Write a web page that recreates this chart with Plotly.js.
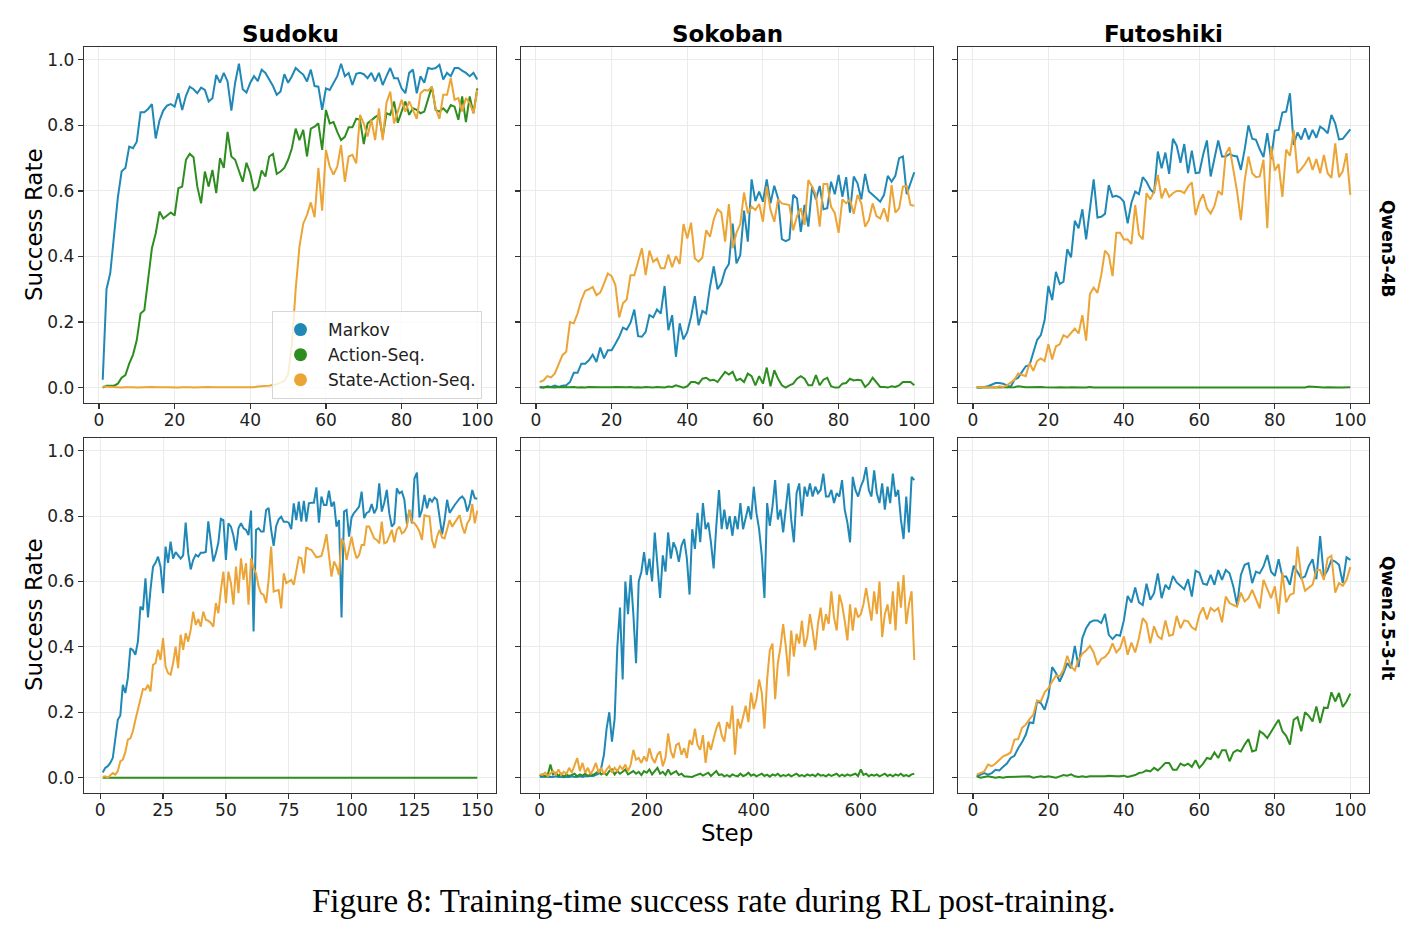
<!DOCTYPE html>
<html>
<head>
<meta charset="utf-8">
<script src="https://cdn.plot.ly/plotly-3.0.1.min.js"></script>
<style>html,body{margin:0;padding:0;background:#fff;}#chart{width:1428px;height:932px;}</style>
</head>
<body>
<div id="chart"></div>
<script>
// ---------- labels ----------
const seriesNames = ["Markov", "Action-Seq.", "State-Action-Seq."];
const seriesColors = ["#1f88b6", "#2e8d1f", "#eba435"];
const taskTitles = ["Sudoku", "Sokoban", "Futoshiki"];
const modelLabels = ["Qwen3-4B", "Qwen2.5-3-It"];
const yTickVals = [0.0, 0.2, 0.4, 0.6, 0.8, 1.0];
const xTicksRow1 = [0, 20, 40, 60, 80, 100];
const xTicksSudoku2 = [0, 25, 50, 75, 100, 125, 150];
const xTicksSokoban2 = [0, 200, 400, 600];
const xTicksFutoshiki2 = [0, 20, 40, 60, 80, 100];

// ---------- Qwen3-4B / Sudoku (steps 1..100) ----------
const sudokuQ3Markov = [0.024,0.30,0.35,0.47,0.58,0.66,0.67,0.735,0.73,0.75,
0.84,0.84,0.85,0.865,0.76,0.815,0.845,0.86,0.865,0.857,
0.898,0.847,0.89,0.918,0.91,0.898,0.915,0.908,0.873,0.883,
0.954,0.93,0.96,0.934,0.845,0.93,0.988,0.91,0.90,0.93,
0.95,0.935,0.97,0.96,0.94,0.92,0.893,0.903,0.956,0.93,
0.95,0.975,0.964,0.955,0.934,0.97,0.92,0.918,0.847,0.913,
0.908,0.93,0.95,0.988,0.95,0.96,0.923,0.957,0.96,0.956,
0.944,0.96,0.934,0.96,0.923,0.95,0.975,0.944,0.944,0.913,
0.898,0.96,0.97,0.898,0.95,0.93,0.975,0.972,0.975,0.985,
0.94,0.96,0.95,0.975,0.975,0.967,0.96,0.95,0.96,0.94];
const sudokuQ3Action = [0.0,0.006,0.006,0.006,0.012,0.03,0.038,0.073,0.10,0.145,
0.226,0.236,0.33,0.425,0.47,0.537,0.516,0.525,0.534,0.525,
0.608,0.613,0.695,0.713,0.703,0.613,0.562,0.659,0.613,0.664,
0.593,0.70,0.67,0.78,0.705,0.695,0.664,0.628,0.686,0.654,
0.60,0.613,0.662,0.644,0.705,0.713,0.652,0.659,0.67,0.695,
0.73,0.79,0.755,0.786,0.705,0.79,0.796,0.806,0.725,0.847,
0.806,0.81,0.78,0.755,0.765,0.794,0.794,0.82,0.817,0.743,
0.806,0.817,0.825,0.832,0.765,0.837,0.832,0.873,0.808,0.842,
0.873,0.832,0.852,0.847,0.837,0.842,0.878,0.918,0.847,0.842,
0.852,0.84,0.862,0.857,0.817,0.888,0.81,0.888,0.837,0.913];
const sudokuQ3State = [0.003,0.002,0.001,0.002,0.001,0.0,0.001,0.002,0.001,0.0,
0.001,0.0,0.001,0.002,0.001,0.0,0.001,0.001,0.0,0.001,
0.0,0.001,0.002,0.001,0.0,0.001,0.0,0.001,0.002,0.001,
0.001,0.0,0.001,0.0,0.001,0.002,0.001,0.0,0.001,0.002,
0.001,0.003,0.004,0.003,0.006,0.008,0.01,0.015,0.02,0.04,
0.13,0.3,0.43,0.5,0.527,0.565,0.52,0.67,0.54,0.725,
0.674,0.65,0.674,0.74,0.628,0.705,0.71,0.684,0.832,0.806,
0.766,0.817,0.755,0.852,0.755,0.868,0.903,0.806,0.842,0.878,
0.842,0.873,0.847,0.82,0.898,0.908,0.906,0.918,0.852,0.82,
0.893,0.893,0.944,0.878,0.883,0.842,0.883,0.868,0.837,0.908];

// ---------- Qwen3-4B / Sokoban (steps 1..100) ----------
const sokobanQ3Markov = [0.002,0.0,0.004,0.002,0.006,0.002,0.006,0.007,0.017,0.045,
0.045,0.073,0.073,0.083,0.10,0.078,0.122,0.089,0.114,0.114,
0.134,0.155,0.183,0.177,0.198,0.238,0.157,0.155,0.17,0.221,
0.214,0.238,0.226,0.31,0.175,0.221,0.094,0.196,0.147,0.17,
0.216,0.279,0.19,0.234,0.226,0.307,0.37,0.30,0.318,0.358,
0.377,0.50,0.379,0.404,0.54,0.445,0.635,0.569,0.598,0.567,
0.635,0.562,0.616,0.577,0.453,0.447,0.452,0.588,0.577,0.475,
0.557,0.491,0.613,0.574,0.615,0.544,0.547,0.628,0.59,0.649,
0.582,0.642,0.534,0.644,0.623,0.574,0.652,0.598,0.588,0.577,
0.567,0.588,0.646,0.628,0.646,0.70,0.705,0.59,0.623,0.657];
const sokobanQ3Action = [0.001,0.0,0.002,0.001,0.0,0.002,0.001,0.0,0.001,0.002,
0.0,0.001,0.0,0.002,0.001,0.0,0.001,0.001,0.0,0.001,
0.002,0.001,0.0,0.001,0.002,0.0,0.001,0.0,0.002,0.001,
0.0,0.002,0.001,0.0,0.003,0.002,0.007,0.004,0.0,0.004,
0.017,0.017,0.012,0.027,0.03,0.022,0.024,0.017,0.033,0.048,
0.04,0.048,0.022,0.027,0.017,0.043,0.035,0.007,0.035,0.012,
0.061,0.004,0.053,0.027,0.007,0.0,0.007,0.012,0.027,0.035,
0.027,0.007,0.007,0.038,0.007,0.024,0.03,0.004,0.0,0.0,
0.012,0.014,0.027,0.022,0.024,0.022,0.002,0.012,0.03,0.017,
0.002,0.002,0.0,0.004,0.002,0.007,0.017,0.017,0.017,0.007];
const sokobanQ3State = [0.017,0.022,0.035,0.031,0.043,0.073,0.099,0.109,0.20,0.196,
0.226,0.267,0.295,0.30,0.307,0.282,0.29,0.318,0.348,0.34,
0.313,0.214,0.257,0.269,0.343,0.343,0.384,0.425,0.343,0.418,
0.384,0.394,0.364,0.364,0.406,0.367,0.401,0.377,0.499,0.455,
0.503,0.394,0.384,0.397,0.48,0.46,0.513,0.544,0.534,0.445,
0.56,0.425,0.472,0.499,0.595,0.532,0.552,0.542,0.56,0.506,
0.613,0.542,0.506,0.574,0.562,0.56,0.557,0.48,0.523,0.547,
0.496,0.633,0.613,0.588,0.491,0.621,0.621,0.552,0.532,0.472,
0.574,0.562,0.574,0.53,0.588,0.562,0.491,0.511,0.562,0.523,
0.516,0.547,0.506,0.618,0.534,0.547,0.613,0.615,0.557,0.555];

// ---------- Qwen3-4B / Futoshiki (steps 1..100) ----------
const futoshikiQ3Markov = [0.0,0.0,0.002,0.004,0.01,0.014,0.014,0.012,0.007,0.002,
0.024,0.03,0.048,0.065,0.068,0.104,0.145,0.16,0.206,0.31,
0.267,0.353,0.316,0.323,0.422,0.397,0.509,0.486,0.544,0.452,
0.547,0.635,0.519,0.521,0.53,0.618,0.582,0.585,0.58,0.567,
0.501,0.564,0.598,0.59,0.642,0.628,0.605,0.593,0.72,0.669,
0.717,0.652,0.759,0.738,0.686,0.743,0.654,0.723,0.654,0.656,
0.71,0.754,0.644,0.705,0.754,0.705,0.705,0.713,0.707,0.705,
0.664,0.726,0.80,0.759,0.756,0.727,0.703,0.776,0.697,0.784,
0.786,0.839,0.842,0.898,0.74,0.778,0.757,0.791,0.757,0.786,
0.762,0.796,0.788,0.776,0.832,0.806,0.757,0.759,0.774,0.788];
const futoshikiQ3Action = [0.0,0.0,0.001,0.0,0.001,0.0,0.0,0.001,0.0,0.0,
0.001,0.004,0.002,0.001,0.001,0.002,0.001,0.002,0.001,0.0,
0.001,0.0,0.001,0.0,0.0,0.001,0.0,0.001,0.0,0.0,
0.002,0.0,0.0,0.001,0.0,0.0,0.001,0.0,0.0,0.0,
0.0,0.001,0.0,0.0,0.0,0.0,0.001,0.0,0.0,0.0,
0.0,0.0,0.0,0.001,0.0,0.0,0.0,0.0,0.0,0.0,
0.0,0.0,0.0,0.0,0.001,0.0,0.0,0.0,0.0,0.0,
0.0,0.0,0.0,0.0,0.0,0.001,0.0,0.0,0.0,0.0,
0.0,0.0,0.0,0.0,0.0,0.0,0.0,0.0,0.003,0.002,
0.003,0.001,0.0,0.001,0.0,0.0,0.0,0.0,0.001,0.001];
const futoshikiQ3State = [0.002,0.002,0.002,0.002,0.002,0.0,0.004,0.002,0.007,0.017,
0.024,0.043,0.038,0.035,0.075,0.051,0.081,0.089,0.081,0.132,
0.086,0.126,0.132,0.16,0.153,0.165,0.18,0.165,0.221,0.143,
0.285,0.305,0.289,0.343,0.418,0.404,0.34,0.472,0.472,0.452,
0.452,0.438,0.557,0.466,0.452,0.593,0.574,0.598,0.649,0.577,
0.608,0.582,0.593,0.60,0.60,0.593,0.613,0.626,0.526,0.567,
0.59,0.547,0.531,0.554,0.60,0.588,0.713,0.733,0.662,0.598,
0.511,0.631,0.705,0.654,0.642,0.644,0.695,0.486,0.736,0.662,
0.682,0.582,0.726,0.707,0.786,0.654,0.667,0.682,0.703,0.664,
0.697,0.654,0.71,0.654,0.64,0.745,0.642,0.66,0.715,0.588];

// ---------- Qwen2.5-3-It / Sudoku (steps 1..150) ----------
const sudokuQ25Markov = [0.016,0.03,0.035,0.045,0.06,0.116,0.177,0.19,0.284,0.259,
0.305,0.396,0.39,0.376,0.417,0.523,0.513,0.61,0.49,0.575,
0.645,0.657,0.676,0.645,0.564,0.707,0.657,0.722,0.67,0.69,
0.68,0.67,0.68,0.78,0.686,0.637,0.666,0.682,0.676,0.688,
0.688,0.69,0.784,0.717,0.661,0.686,0.719,0.792,0.788,0.666,
0.778,0.768,0.74,0.695,0.763,0.778,0.763,0.758,0.742,0.817,
0.447,0.758,0.763,0.753,0.753,0.819,0.825,0.758,0.709,0.77,
0.79,0.798,0.783,0.783,0.78,0.76,0.839,0.788,0.844,0.783,
0.847,0.783,0.839,0.841,0.841,0.888,0.78,0.86,0.834,0.834,
0.878,0.829,0.844,0.768,0.788,0.49,0.814,0.819,0.737,0.796,
0.81,0.819,0.829,0.875,0.794,0.81,0.814,0.837,0.809,0.824,
0.9,0.814,0.841,0.88,0.809,0.768,0.778,0.885,0.87,0.875,
0.85,0.776,0.819,0.778,0.915,0.933,0.796,0.819,0.865,0.824,
0.854,0.844,0.857,0.85,0.798,0.744,0.788,0.85,0.81,0.824,
0.834,0.844,0.854,0.86,0.85,0.814,0.837,0.88,0.855,0.853];
const sudokuQ25Action = [0,0,0,0,0,0,0,0,0,0,
0,0,0,0,0,0,0,0,0,0,
0,0,0,0,0,0,0,0,0,0,
0,0,0,0,0,0,0,0,0,0,
0,0,0,0,0,0,0,0,0,0,
0,0,0,0,0,0,0,0,0,0,
0,0,0,0,0,0,0,0,0,0,
0,0,0,0,0,0,0,0,0,0,
0,0,0,0,0,0,0,0,0,0,
0,0,0,0,0,0,0,0,0,0,
0,0,0,0,0,0,0,0,0,0,
0,0,0,0,0,0,0,0,0,0,
0,0,0,0,0,0,0,0,0,0,
0,0,0,0,0,0,0,0,0,0,
0,0,0,0,0,0,0,0,0,0];
const sudokuQ25State = [0.002,0.004,0.0,0.006,0.014,0.009,0.02,0.05,0.055,0.078,
0.116,0.12,0.142,0.177,0.208,0.248,0.271,0.269,0.284,0.264,
0.345,0.35,0.391,0.36,0.427,0.34,0.32,0.315,0.35,0.401,
0.335,0.437,0.391,0.442,0.416,0.452,0.508,0.467,0.485,0.462,
0.508,0.483,0.48,0.473,0.462,0.534,0.503,0.574,0.63,0.534,
0.63,0.595,0.529,0.646,0.564,0.671,0.605,0.656,0.529,0.671,
0.641,0.625,0.585,0.564,0.559,0.534,0.605,0.707,0.569,0.572,
0.574,0.518,0.625,0.595,0.6,0.605,0.59,0.635,0.674,0.671,
0.625,0.705,0.699,0.697,0.686,0.674,0.676,0.678,0.707,0.745,
0.681,0.615,0.661,0.646,0.62,0.732,0.717,0.666,0.702,0.737,
0.697,0.671,0.681,0.712,0.712,0.768,0.768,0.747,0.732,0.727,
0.717,0.783,0.717,0.72,0.737,0.758,0.72,0.758,0.768,0.747,
0.753,0.768,0.819,0.783,0.778,0.768,0.753,0.727,0.803,0.8,
0.8,0.727,0.702,0.737,0.758,0.735,0.732,0.763,0.788,0.768,
0.78,0.793,0.803,0.768,0.747,0.778,0.79,0.837,0.778,0.817];

// ---------- Qwen2.5-3-It / Sokoban (every 5th step, 0..700) ----------
const sokobanQ25Markov = [0.003,0.002,0.004,0.002,0.003,0.002,0.004,0.002,0.003,0.001,
0.003,0.002,0.004,0.002,0.003,0.004,0.002,0.005,0.004,0.006,
0.005,0.008,0.012,0.03,0.07,0.15,0.2,0.11,0.18,0.4,
0.52,0.3,0.6,0.5,0.62,0.5,0.35,0.6,0.63,0.69,
0.62,0.67,0.6,0.75,0.65,0.55,0.68,0.63,0.75,0.67,
0.72,0.7,0.66,0.71,0.73,0.67,0.56,0.76,0.7,0.81,
0.72,0.84,0.76,0.78,0.72,0.64,0.77,0.88,0.76,0.82,
0.76,0.8,0.74,0.8,0.76,0.84,0.76,0.8,0.83,0.79,
0.89,0.81,0.76,0.68,0.55,0.84,0.77,0.83,0.91,0.79,
0.82,0.75,0.83,0.9,0.79,0.72,0.87,0.9,0.8,0.89,
0.86,0.9,0.86,0.89,0.87,0.88,0.93,0.86,0.86,0.88,
0.84,0.87,0.86,0.91,0.82,0.78,0.72,0.92,0.88,0.86,
0.89,0.91,0.95,0.88,0.86,0.94,0.87,0.84,0.9,0.82,
0.89,0.84,0.93,0.86,0.88,0.79,0.73,0.86,0.75,0.92,
0.91];
const sokobanQ25Action = [0.005,0.01,0.003,0.008,0.04,0.01,0.015,0.005,0.012,0.003,
0.01,0.005,0.008,0.012,0.004,0.01,0.006,0.012,0.005,0.01,
0.008,0.015,0.02,0.01,0.015,0.008,0.02,0.025,0.01,0.02,
0.012,0.018,0.025,0.01,0.015,0.02,0.012,0.018,0.008,0.02,
0.015,0.025,0.01,0.02,0.03,0.012,0.018,0.008,0.025,0.01,
0.015,0.02,0.008,0.012,0.004,0.003,0.004,0.002,0.006,0.008,
0.012,0.006,0.01,0.015,0.005,0.012,0.02,0.008,0.01,0.004,
0.008,0.003,0.01,0.006,0.004,0.012,0.005,0.008,0.015,0.006,
0.01,0.004,0.008,0.012,0.005,0.009,0.003,0.01,0.006,0.012,
0.004,0.008,0.005,0.01,0.004,0.007,0.012,0.005,0.008,0.004,
0.01,0.006,0.009,0.004,0.012,0.006,0.008,0.004,0.01,0.005,
0.008,0.012,0.004,0.009,0.005,0.01,0.006,0.008,0.012,0.005,
0.025,0.008,0.012,0.004,0.009,0.006,0.01,0.004,0.008,0.012,
0.005,0.009,0.004,0.01,0.006,0.012,0.005,0.008,0.004,0.01,
0.012];
const sokobanQ25State = [0.01,0.008,0.015,0.005,0.012,0.02,0.01,0.025,0.008,0.018,
0.012,0.03,0.015,0.04,0.06,0.02,0.045,0.015,0.03,0.01,
0.025,0.045,0.015,0.03,0.01,0.025,0.035,0.015,0.03,0.02,
0.035,0.025,0.04,0.02,0.04,0.085,0.055,0.06,0.045,0.065,
0.05,0.09,0.06,0.045,0.07,0.08,0.035,0.06,0.135,0.08,
0.06,0.1,0.105,0.07,0.09,0.06,0.115,0.1,0.15,0.1,
0.085,0.13,0.045,0.11,0.085,0.12,0.15,0.17,0.13,0.11,
0.17,0.15,0.22,0.07,0.18,0.15,0.19,0.22,0.17,0.26,
0.21,0.24,0.3,0.26,0.15,0.3,0.39,0.41,0.24,0.35,
0.4,0.47,0.4,0.31,0.45,0.37,0.44,0.41,0.48,0.4,
0.43,0.5,0.45,0.39,0.47,0.52,0.45,0.5,0.47,0.57,
0.49,0.45,0.56,0.53,0.48,0.42,0.53,0.45,0.52,0.49,
0.5,0.53,0.58,0.53,0.48,0.57,0.5,0.6,0.43,0.5,
0.53,0.47,0.57,0.45,0.6,0.52,0.62,0.47,0.53,0.57,
0.36];

// ---------- Qwen2.5-3-It / Futoshiki (steps 1..100) ----------
const futoshikiQ25Markov = [0.004,0.009,0.014,0.009,0.014,0.024,0.022,0.033,0.043,0.06,
0.067,0.09,0.108,0.131,0.169,0.167,0.233,0.228,0.208,0.248,
0.338,0.32,0.294,0.32,0.35,0.335,0.403,0.338,0.427,0.457,
0.475,0.481,0.481,0.473,0.501,0.437,0.424,0.437,0.434,0.481,
0.556,0.536,0.582,0.536,0.528,0.593,0.544,0.564,0.625,0.549,
0.59,0.576,0.617,0.597,0.585,0.576,0.607,0.554,0.633,0.627,
0.593,0.59,0.62,0.59,0.635,0.605,0.635,0.625,0.585,0.528,
0.62,0.651,0.656,0.595,0.63,0.625,0.646,0.681,0.63,0.617,
0.668,0.615,0.615,0.59,0.648,0.63,0.61,0.615,0.648,0.668,
0.607,0.739,0.615,0.635,0.666,0.661,0.651,0.595,0.674,0.666];
const futoshikiQ25Action = [0.004,0.0,0.002,0.004,0.002,0.0,0.002,0.0,0.002,0.002,
0.004,0.002,0.004,0.002,0.004,0.0,0.002,0.004,0.002,0.004,
0.002,0.0,0.004,0.008,0.006,0.01,0.004,0.002,0.004,0.002,
0.004,0.004,0.002,0.004,0.004,0.006,0.004,0.004,0.004,0.006,
0.002,0.004,0.008,0.014,0.016,0.022,0.019,0.03,0.022,0.033,
0.045,0.045,0.024,0.024,0.043,0.037,0.043,0.033,0.053,0.03,
0.043,0.06,0.057,0.077,0.06,0.084,0.084,0.05,0.077,0.084,
0.08,0.101,0.118,0.08,0.084,0.142,0.134,0.121,0.142,0.159,
0.177,0.142,0.128,0.101,0.177,0.185,0.142,0.2,0.189,0.172,
0.218,0.167,0.214,0.213,0.261,0.233,0.259,0.216,0.233,0.257];
const futoshikiQ25State = [0.009,0.014,0.019,0.04,0.035,0.043,0.055,0.065,0.07,0.077,
0.116,0.118,0.152,0.162,0.179,0.192,0.236,0.233,0.261,0.274,
0.294,0.312,0.31,0.33,0.373,0.34,0.328,0.36,0.379,0.389,
0.403,0.383,0.345,0.363,0.369,0.383,0.411,0.383,0.396,0.432,
0.376,0.413,0.383,0.427,0.488,0.473,0.411,0.463,0.432,0.424,
0.481,0.434,0.437,0.495,0.457,0.481,0.478,0.46,0.452,0.498,
0.521,0.484,0.519,0.509,0.519,0.475,0.554,0.534,0.528,0.523,
0.566,0.539,0.549,0.574,0.546,0.518,0.605,0.576,0.549,0.585,
0.501,0.627,0.536,0.559,0.564,0.707,0.615,0.572,0.582,0.59,
0.635,0.635,0.605,0.671,0.679,0.566,0.595,0.587,0.605,0.644];

// ---------- build ----------
function stepsFrom(start, stride, n) { const r = []; for (let i = 0; i < n; i++) r.push(start + i * stride); return r; }

const panels = [
  {ax: "", series: [sudokuQ3Markov, sudokuQ3Action, sudokuQ3State], start: 1, stride: 1},
  {ax: "2", series: [sokobanQ3Markov, sokobanQ3Action, sokobanQ3State], start: 1, stride: 1},
  {ax: "3", series: [futoshikiQ3Markov, futoshikiQ3Action, futoshikiQ3State], start: 1, stride: 1},
  {ax: "4", series: [sudokuQ25Markov, sudokuQ25Action, sudokuQ25State], start: 1, stride: 1},
  {ax: "5", series: [sokobanQ25Markov, sokobanQ25Action, sokobanQ25State], start: 0, stride: 5},
  {ax: "6", series: [futoshikiQ25Markov, futoshikiQ25Action, futoshikiQ25State], start: 1, stride: 1}
];

const traces = [];
panels.forEach(p => {
  p.series.forEach((ys, k) => {
    traces.push({
      type: "scatter", mode: "lines",
      x: stepsFrom(p.start, p.stride, ys.length), y: ys,
      xaxis: "x" + p.ax, yaxis: "y" + p.ax,
      line: {color: seriesColors[k], width: 2},
      showlegend: false, hoverinfo: "skip"
    });
  });
});
// legend entries (circle markers)
seriesNames.forEach((nm, k) => {
  traces.push({type: "scatter", mode: "markers", x: [null], y: [null], xaxis: "x", yaxis: "y",
    name: nm, marker: {color: seriesColors[k], size: 13}, showlegend: true});
});

const W = 1428, H = 932;
const fx = v => v / W, fy = v => 1 - v / H;
const colX = [[84, 496], [521, 933], [958, 1369]];
const rowY = [[47, 403], [438, 793]];
const FONT = "DejaVu Sans, Arial, sans-serif";

function xAxis(col, row, range, ticks) {
  return {domain: [fx(colX[col][0]), fx(colX[col][1])], anchor: "y" + (row * 3 + col === 0 ? "" : row * 3 + col + 1),
    range: range, tickvals: ticks, ticktext: ticks.map(String),
    showline: true, mirror: true, linecolor: "#333", linewidth: 1.2,
    ticks: "outside", ticklen: 5, tickwidth: 1.2, tickcolor: "#333", ticklabelstandoff: -4,
    showgrid: true, gridcolor: "#ebebeb", gridwidth: 1, zeroline: false,
    tickfont: {family: FONT, size: 17, color: "#222"}, fixedrange: true};
}
function yAxis(col, row) {
  return {domain: [fy(rowY[row][1]), fy(rowY[row][0])], anchor: "x" + (row * 3 + col === 0 ? "" : row * 3 + col + 1),
    range: [-0.047, 1.039], tickvals: yTickVals, ticktext: yTickVals.map(v => v.toFixed(1)),
    showticklabels: col === 0,
    showline: true, mirror: true, linecolor: "#333", linewidth: 1.2,
    ticks: "outside", ticklen: 5, tickwidth: 1.2, tickcolor: "#333",
    showgrid: true, gridcolor: "#ebebeb", gridwidth: 1, zeroline: false,
    tickfont: {family: FONT, size: 17, color: "#222"}, fixedrange: true};
}

const r1 = [-3.95, 104.95];
const layout = {
  width: W, height: H, margin: {l: 0, r: 0, t: 0, b: 0},
  paper_bgcolor: "#fff", plot_bgcolor: "#fff", showlegend: true,
  xaxis: xAxis(0, 0, r1, xTicksRow1), yaxis: yAxis(0, 0),
  xaxis2: xAxis(1, 0, r1, xTicksRow1), yaxis2: yAxis(1, 0),
  xaxis3: xAxis(2, 0, r1, xTicksRow1), yaxis3: yAxis(2, 0),
  xaxis4: xAxis(0, 1, [-6.45, 157.45], xTicksSudoku2), yaxis4: yAxis(0, 1),
  xaxis5: xAxis(1, 1, [-35, 735], xTicksSokoban2), yaxis5: yAxis(1, 1),
  xaxis6: xAxis(2, 1, r1, xTicksFutoshiki2), yaxis6: yAxis(2, 1),
  legend: {x: fx(272), y: fy(311), xanchor: "left", yanchor: "top", itemwidth: 45,
    bgcolor: "rgba(255,255,255,0.8)", bordercolor: "#d6d6d6", borderwidth: 1,
    font: {family: FONT, size: 17, color: "#222"}},
  annotations: [
    ...taskTitles.map((t, i) => ({text: "<b>" + t + "</b>", x: fx((colX[i][0] + colX[i][1]) / 2), y: fy(34),
      xref: "paper", yref: "paper", xanchor: "center", yanchor: "middle", showarrow: false,
      font: {family: FONT, size: 23, color: "#000"}})),
    {text: "<b>" + modelLabels[0] + "</b>", x: fx(1388), y: fy(248), xref: "paper", yref: "paper",
      textangle: 90, showarrow: false, xanchor: "center", yanchor: "middle", font: {family: FONT, size: 17, color: "#000"}},
    {text: "<b>" + modelLabels[1] + "</b>", x: fx(1388), y: fy(618), xref: "paper", yref: "paper",
      textangle: 90, showarrow: false, xanchor: "center", yanchor: "middle", font: {family: FONT, size: 17, color: "#000"}},
    {text: "Success Rate", x: fx(34), y: fy(225), xref: "paper", yref: "paper", textangle: -90, showarrow: false,
      xanchor: "center", yanchor: "middle", font: {family: FONT, size: 23, color: "#000"}},
    {text: "Success Rate", x: fx(34), y: fy(615), xref: "paper", yref: "paper", textangle: -90, showarrow: false,
      xanchor: "center", yanchor: "middle", font: {family: FONT, size: 23, color: "#000"}},
    {text: "Step", x: fx(727), y: fy(833), xref: "paper", yref: "paper", showarrow: false,
      xanchor: "center", yanchor: "middle", font: {family: FONT, size: 23, color: "#000"}},
    {text: "Figure 8: Training-time success rate during RL post-training.", x: fx(714), y: fy(901),
      xref: "paper", yref: "paper", showarrow: false, xanchor: "center", yanchor: "middle",
      font: {family: "Liberation Serif, DejaVu Serif, serif", size: 33, color: "#000"}}
  ]
};

Plotly.newPlot("chart", traces, layout, {staticPlot: true, displayModeBar: false});
</script>
</body>
</html>
